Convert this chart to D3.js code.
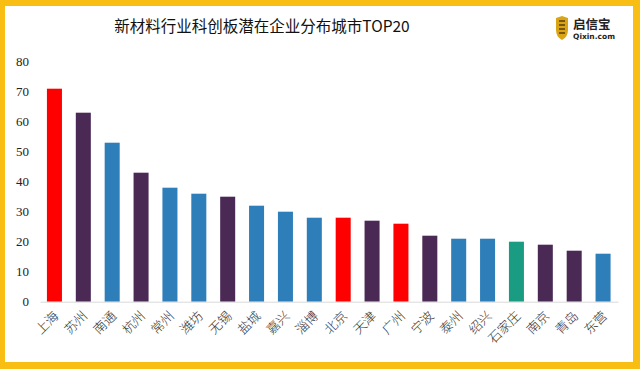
<!DOCTYPE html>
<html>
<head>
<meta charset="utf-8">
<script src="https://cdn.jsdelivr.net/npm/d3@7/dist/d3.min.js"></script>
<style>
html,body{margin:0;padding:0;background:#fff;}
svg{display:block;}
</style>
</head>
<body>
<svg id="chart" width="640" height="369"></svg>
<script>
const cities = ["上海","苏州","南通","杭州","常州","潍坊","无锡","盐城","嘉兴","淄博","北京","天津","广州","宁波","泰州","绍兴","石家庄","南京","青岛","东营"];
const counts = [71,63,53,43,38,36,35,32,30,28,28,27,26,22,21,21,20,19,17,16];
const groups = ["red","purple","blue","purple","blue","blue","purple","blue","blue","blue","red","purple","red","purple","blue","blue","teal","purple","purple","blue"];
const yTicks = [0,10,20,30,40,50,60,70,80];
const title = "新材料行业科创板潜在企业分布城市TOP20";

const palette = {red:"#FE0000", purple:"#4A2A55", blue:"#2E7EB9", teal:"#1A9C83"};

const svg = d3.select("#chart");
const W = 640, H = 369;

// yellow frame
svg.append("rect").attr("x",0).attr("y",0).attr("width",W).attr("height",H).attr("fill","#F8BE14");
svg.append("rect").attr("x",5).attr("y",6).attr("width",W-5-7).attr("height",H-6-7).attr("fill","#fff");

const x = d3.scaleBand().domain(cities).range([40, 617.5]).paddingInner(0.48).paddingOuter(0.24);
const y = d3.scaleLinear().domain([0,80]).range([301.7, 61.7]);

// title
svg.append("text").attr("x",262).attr("y",32).attr("text-anchor","middle")
  .attr("font-family","'Noto Sans CJK SC', sans-serif").attr("font-size",15.5).attr("fill","#111")
  .text(title);

// y axis labels
const yAxis = d3.axisLeft(y).tickValues(yTicks).tickSize(0).tickPadding(0);
const gy = svg.append("g").attr("transform","translate(29,0)").call(yAxis);
gy.select(".domain").remove();
gy.selectAll("text").attr("font-family","'Liberation Serif', serif").attr("font-size",13).attr("fill","#222");

// bars
svg.append("g").selectAll("rect").data(cities).join("rect")
  .attr("x", d => x(d))
  .attr("y", (d,i) => y(counts[i]))
  .attr("width", x.bandwidth())
  .attr("height", (d,i) => y(0) - y(counts[i]))
  .attr("fill", (d,i) => palette[groups[i]]);

// x baseline
const xAxis = d3.axisBottom(x).tickSize(0).tickPadding(0);
const gx = svg.append("g").attr("transform",`translate(0,${y(0)})`).call(xAxis);
gx.select(".domain").attr("stroke","#d9d9d9").attr("d","M40.5,0.5H618.5");
gx.selectAll(".tick text")
  .attr("font-family","'Noto Sans CJK SC', sans-serif").attr("font-size",13).attr("fill","#333")
  .attr("font-weight",300)
  .attr("text-anchor","end")
  .attr("dy",0)
  .attr("transform","translate(5,15) rotate(-45)");

// logo
const logo = svg.append("g").attr("transform","translate(556,16)");
logo.append("path").attr("d","M0,2 L6,0 L12,2 L12,14 Q12,21 6,24 Q0,21 0,14 Z").attr("fill","#D9A516");
logo.append("path").attr("d","M3,5 L9,5 M3,9 L9,9 M3,13 L9,13 M3,17 L9,17").attr("stroke","#5a3d06").attr("stroke-width",1.6);
logo.append("text").attr("x",17).attr("y",13).attr("font-family","'Noto Sans CJK SC', sans-serif")
  .attr("font-size",12.5).attr("font-weight","bold").attr("fill","#222").text("启信宝");
logo.append("text").attr("x",17).attr("y",23).attr("font-family","'DejaVu Sans', sans-serif")
  .attr("font-size",7.5).attr("font-weight","bold").attr("fill","#222").text("Qixin.com");
</script>
</body>
</html>
